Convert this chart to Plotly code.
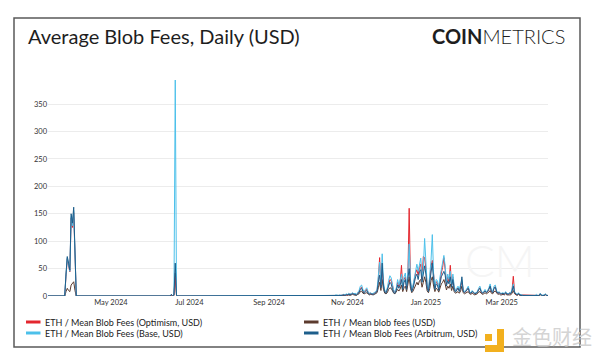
import pandas as pd
import plotly.graph_objects as go

# ---------------- data ----------------
series_names = [
    "ETH / Mean Blob Fees (Optimism, USD)",
    "ETH / Mean blob fees (USD)",
    "ETH / Mean Blob Fees (Base, USD)",
    "ETH / Mean Blob Fees (Arbitrum, USD)",
]
series_colors = ["#e3262e", "#5c3b2e", "#4cc0ea", "#1d5e8b"]

early_dates = ["2024-03-13", "2024-03-26", "2024-03-27", "2024-03-28", "2024-03-29",
               "2024-03-30", "2024-03-31", "2024-04-01", "2024-04-02", "2024-04-03",
               "2024-04-04", "2024-06-16", "2024-06-17", "2024-06-18", "2024-06-19",
               "2024-06-20", "2024-06-21", "2024-06-22"]
late_dates = list(pd.date_range("2024-10-15", "2025-04-06", freq="D").strftime("%Y-%m-%d"))
dates = early_dates + late_dates

optimism_early = [0, 0, 36, 68, 55, 44, 142, 125, 152, 74, 0, 0, 2, 0.5, 1, 35, 1, 0]
optimism_late = (
    [0, 0, 0, 0, 0, 0, 0, 1, 1, 1, 1, 1, 1, 2, 2, 2, 3]                       # Oct
    + [2, 4, 3, 3, 5, 3, 4, 3, 5, 8, 14, 16, 10, 7, 10, 12, 7, 4, 5, 3,
       4, 5, 7, 10, 30, 70, 18, 50, 20, 9]                                     # Nov
    + [7, 12, 22, 30, 28, 15, 9, 7, 12, 25, 17, 26, 56, 15, 30, 35, 15, 38, 160, 25,
       10, 17, 30, 42, 48, 38, 52, 58, 30, 72, 70]                             # Dec
    + [50, 17, 10, 30, 55, 65, 35, 15, 26, 24, 13, 30, 42, 52, 70, 48, 22, 35, 26, 56,
       20, 35, 15, 9, 12, 15, 10, 17, 26, 10, 7]                               # Jan
    + [8, 12, 15, 7, 5, 8, 7, 4, 5, 7, 12, 15, 8, 5, 7, 10, 7, 8, 13, 18,
       8, 7, 15, 17, 8, 5, 7, 4]                                               # Feb
    + [4, 5, 3, 7, 4, 3, 5, 4, 10, 36, 7, 3, 2, 5, 2, 2, 1, 1, 1, 1,
       1, 1, 1, 1, 1, 1, 1, 2, 1, 1, 4]                                        # Mar
    + [1, 1, 1, 3, 1, 1]                                                       # Apr
)

mean_early = [0, 0, 8, 14, 10, 8, 20, 24, 26, 10, 0, 0, 1, 0.3, 1, 42, 0.5, 0]
mean_late = (
    [0, 0, 0, 0, 0, 0, 0, 0.5, 1, 0.5, 0.5, 1, 0.5, 1, 1, 1, 2]
    + [1, 2, 1, 2, 3, 2, 2, 1, 3, 4, 8, 9, 5, 4, 5, 6, 4, 2, 3, 2,
       2, 3, 4, 6, 15, 25, 10, 30, 12, 5]
    + [4, 6, 12, 15, 14, 8, 5, 4, 7, 12, 9, 13, 20, 8, 15, 18, 8, 20, 35, 14,
       6, 9, 15, 22, 25, 20, 28, 30, 16, 25, 35]
    + [25, 9, 6, 14, 28, 35, 18, 8, 14, 12, 7, 15, 22, 25, 30, 22, 11, 18, 14, 22,
       10, 18, 8, 5, 6, 8, 5, 9, 18, 6, 4]
    + [5, 7, 8, 4, 3, 5, 4, 2, 3, 4, 7, 8, 5, 3, 4, 6, 4, 5, 7, 10,
       5, 4, 8, 9, 5, 3, 4, 2]
    + [2, 3, 2, 4, 2, 2, 3, 2, 5, 10, 4, 2, 1, 3, 1, 1, 0.5, 0.5, 0.5, 0.5,
       0.5, 0.5, 0.5, 0.5, 0.5, 1, 0.5, 1, 0.5, 0.5, 2]
    + [0.5, 0.5, 1, 2, 0.5, 0.5]
)

base_early = [0, 0, 38, 70, 57, 45, 145, 128, 156, 76, 0, 0, 3, 0.5, 2, 394, 1, 0]
base_late = (
    [0, 0, 0, 0, 0, 0, 0, 1, 2, 1, 1, 2, 1, 2, 3, 2, 4]
    + [3, 5, 3, 4, 6, 4, 5, 3, 6, 10, 18, 20, 12, 8, 12, 15, 8, 5, 6, 4,
       5, 6, 8, 12, 35, 62, 20, 77, 25, 10]
    + [8, 15, 28, 37, 33, 18, 10, 8, 15, 30, 20, 30, 40, 18, 35, 42, 18, 45, 95, 30,
       12, 20, 35, 50, 58, 45, 62, 69, 35, 50, 105]
    + [60, 20, 12, 35, 65, 112, 40, 18, 30, 28, 15, 35, 50, 60, 74, 55, 25, 40, 30, 45,
       22, 40, 18, 10, 14, 18, 12, 20, 30, 12, 8]
    + [10, 15, 18, 8, 6, 10, 8, 5, 6, 8, 14, 18, 10, 6, 8, 12, 8, 10, 15, 22,
       10, 8, 18, 20, 10, 6, 8, 5]
    + [5, 6, 4, 8, 5, 4, 6, 5, 12, 22, 8, 4, 3, 6, 3, 2, 2, 1, 1, 1,
       1, 1, 1, 1, 1, 2, 1, 3, 1, 1, 5]
    + [1, 1, 2, 4, 1, 1]
)

arbitrum_early = [0, 0, 40, 72, 60, 47, 150, 133, 162, 80, 0, 0, 3, 0.5, 2, 60, 1, 0]
arbitrum_late = (
    [0, 0, 0, 0, 0, 0, 0, 1, 1, 1, 1, 1, 1, 1, 2, 1, 2]
    + [2, 3, 2, 3, 4, 3, 3, 2, 4, 6, 12, 14, 8, 5, 8, 10, 5, 3, 4, 3,
       3, 4, 6, 8, 25, 38, 15, 60, 18, 7]
    + [5, 10, 18, 25, 22, 12, 6, 5, 10, 20, 14, 20, 30, 12, 25, 30, 12, 32, 50, 22,
       8, 14, 25, 35, 40, 30, 45, 48, 25, 38, 55]
    + [40, 14, 8, 25, 45, 60, 28, 12, 22, 20, 10, 25, 35, 40, 45, 38, 18, 28, 22, 35,
       16, 30, 12, 7, 10, 14, 8, 15, 35, 9, 6]
    + [8, 12, 14, 6, 5, 8, 6, 4, 5, 6, 11, 14, 8, 5, 6, 9, 6, 8, 12, 18,
       8, 6, 14, 16, 8, 5, 6, 4]
    + [4, 5, 3, 6, 4, 3, 5, 4, 9, 18, 6, 3, 2, 4, 2, 1, 1, 1, 1, 1,
       1, 1, 1, 1, 1, 1, 1, 2, 1, 1, 4]
    + [1, 1, 1, 3, 1, 1]
)

series_values = [
    optimism_early + optimism_late,
    mean_early + mean_late,
    base_early + base_late,
    arbitrum_early + arbitrum_late,
]

x_range = ["2024-03-13", "2025-04-06"]
y_max = 394

# ---------------- layout helpers ----------------
# The page body has an 8px margin, so the figure is offset by (8, 8) in the window.
OFF = 8
W, H = 600 - OFF, 357 - OFF
# plot area in window pixels
L, R, T, B = 48, 548, 80, 296


def px(x):
    return (x - L) / (R - L)


def py(y):
    return (B - y) / (B - T)


FONT = "Lato"

fig = go.Figure()
draw_order = [1, 0, 2, 3]
for i in draw_order:
    fig.add_trace(go.Scatter(
        x=dates, y=series_values[i], mode="lines", name=series_names[i],
        line=dict(color=series_colors[i], width=1.0), showlegend=False,
    ))

shapes = [
    dict(type="rect", xref="paper", yref="paper", x0=px(14), x1=px(580),
         y0=py(347), y1=py(18), line=dict(color="#5a5a5a", width=1.5), layer="below"),
]
annotations = [
    dict(text="Average Blob Fees, Daily (USD)", x=px(26), y=py(36), xref="paper", yref="paper",
         xanchor="left", yanchor="middle", showarrow=False,
         font=dict(family=FONT, size=20, color="#1e1e1e")),
    dict(text="<b>COIN</b>METRICS", x=px(567), y=py(36), xref="paper", yref="paper",
         xanchor="right", yanchor="middle", showarrow=False,
         font=dict(family=FONT, size=20, color="#1e1e1e", weight=300)),
    dict(text="CM", x=px(500), y=py(260), xref="paper", yref="paper",
         xanchor="center", yanchor="middle", showarrow=False,
         font=dict(family=FONT, size=44, color="#f5f5f5", weight=300)),
]

# manual legend
legend_pos = [(26, 322), (304, 322), (26, 333), (304, 333)]
for (lx, ly), name, color in zip(legend_pos, series_names, series_colors):
    shapes.append(dict(type="line", xref="paper", yref="paper", x0=px(lx), x1=px(lx + 14.5),
                       y0=py(ly), y1=py(ly), line=dict(color=color, width=3)))
    annotations.append(dict(text=name, x=px(lx + 17), y=py(ly), xref="paper", yref="paper",
                            xanchor="left", yanchor="middle", showarrow=False,
                            font=dict(family=FONT, size=9, color="#222222")))

# watermark
wm_color = "#f2b01e"
shapes += [
    dict(type="rect", xref="paper", yref="paper", x0=px(497), x1=px(504), y0=py(352), y1=py(329),
         fillcolor=wm_color, line=dict(width=0)),
    dict(type="rect", xref="paper", yref="paper", x0=px(485), x1=px(504), y0=py(352), y1=py(345),
         fillcolor=wm_color, line=dict(width=0)),
    dict(type="rect", xref="paper", yref="paper", x0=px(485), x1=px(492), y0=py(341), y1=py(334),
         fillcolor=wm_color, line=dict(width=0)),
]
annotations.append(dict(text="金色财经", x=px(510), y=py(336), xref="paper", yref="paper",
                        xanchor="left", yanchor="middle", showarrow=False,
                        font=dict(family="Noto Sans CJK SC", size=20, color="#d4d4d4")))

fig.update_layout(
    width=W, height=H,
    margin=dict(l=L - OFF, r=600 - R, t=T - OFF, b=357 - B, pad=0),
    paper_bgcolor="white", plot_bgcolor="white",
    showlegend=False,
    shapes=shapes, annotations=annotations,
    xaxis=dict(range=x_range, type="date", showgrid=False, zeroline=False, showline=False,
               ticks="", dtick="M2", tick0="2024-05-01", tickformat="%b %Y",
               tickfont=dict(family=FONT, size=7.5, color="#333333")),
    yaxis=dict(range=[0, y_max], dtick=50, showgrid=True, gridcolor="#ececec", gridwidth=1,
               zeroline=False, showline=False, ticks="",
               tickfont=dict(family=FONT, size=7.5, color="#333333")),
)

fig.write_html("out.html")
